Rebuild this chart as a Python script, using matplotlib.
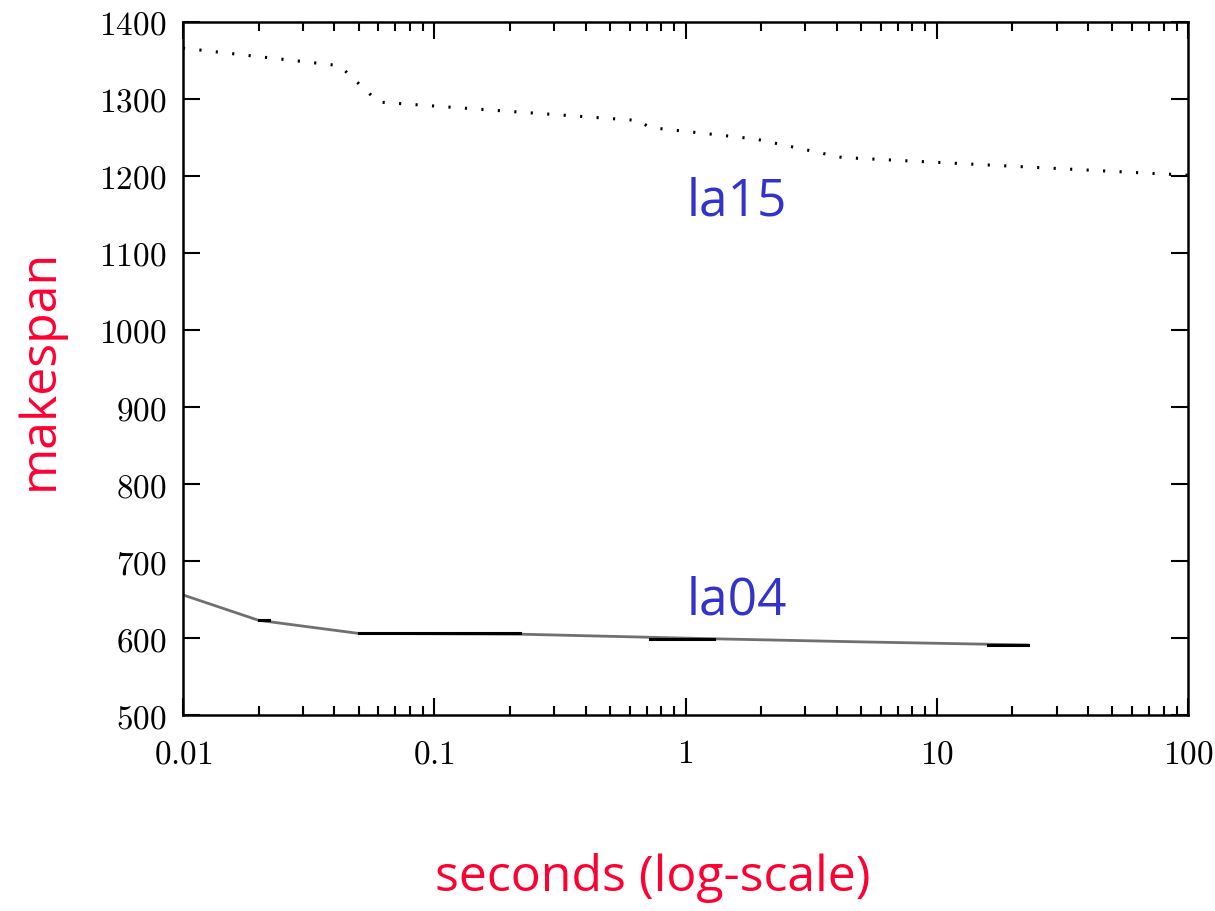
import matplotlib
matplotlib.use("Agg")
import matplotlib.pyplot as plt
from matplotlib.ticker import FixedLocator, LogLocator, NullFormatter

# data
la15_x = [0.01, 0.04, 0.043, 0.06, 0.65, 0.72, 1.9, 4.2, 100]
la15_y = [1366, 1344, 1340, 1296, 1272, 1263, 1248, 1224, 1201]

la04_x = [0.01, 0.02, 0.05, 0.22, 1.3, 5.0, 23]
la04_y = [656, 623, 606, 605, 599, 595, 591]

la04_seg_x = [(0.02, 0.022), (0.05, 0.22), (0.72, 1.3), (16, 23)]
la04_seg_y = [623, 606, 599, 591]

xticks = [0.01, 0.1, 1, 10, 100]
xtick_labels = ["0.01", "0.1", "1", "10", "100"]
yticks = [500, 600, 700, 800, 900, 1000, 1100, 1200, 1300, 1400]

plt.rcParams['mathtext.fontset'] = 'cm'

fig = plt.figure(figsize=(12.15, 9.11), dpi=100)
ax = fig.add_axes([0.1506, 0.2151, 0.8272, 0.7608])

ax.plot(la15_x, la15_y, color='black', linewidth=2.2, linestyle=(0, (0.7, 4.7)),
        dash_capstyle='butt')
ax.plot(la04_x, la04_y, color='#707070', linewidth=2.0)
for (x0, x1), yv in zip(la04_seg_x, la04_seg_y):
    ax.plot([x0, x1], [yv, yv], color='black', linewidth=2.2)

ax.set_xscale('log')
ax.set_xlim(0.01, 100)
ax.set_ylim(500, 1400)

ax.xaxis.set_major_locator(FixedLocator(xticks))
ax.set_xticklabels([r"$%s$" % t for t in xtick_labels])
ax.xaxis.set_minor_locator(LogLocator(base=10, subs=range(2, 10)))
ax.xaxis.set_minor_formatter(NullFormatter())
ax.set_yticks(yticks)
ax.set_yticklabels([r"$%d$" % v for v in yticks])

ax.tick_params(which='both', direction='in', top=True, right=True, width=1.5,
               labelsize=24, colors='black')
ax.tick_params(which='major', length=12.5, pad=12)
ax.tick_params(which='minor', length=6.5)
ax.tick_params(axis='x', pad=16)
for s in ax.spines.values():
    s.set_linewidth(1.8)

ax.text(1.6, 1149, "la15", fontsize=37, color='#3333CC', family='Open Sans',
        ha='center', va='baseline')
ax.text(1.6, 630, "la04", fontsize=37, color='#3333CC', family='Open Sans',
        ha='center', va='baseline')

fig.text(0.537, 0.022, "seconds (log-scale)", fontsize=36, color='#FF0033',
         family='Open Sans', ha='center', va='baseline')
fig.text(0.033, 0.594, "makespan", fontsize=36, color='#FF0033',
         family='Open Sans', ha='center', va='center', rotation=90)

fig.savefig("out.png", dpi=100)
